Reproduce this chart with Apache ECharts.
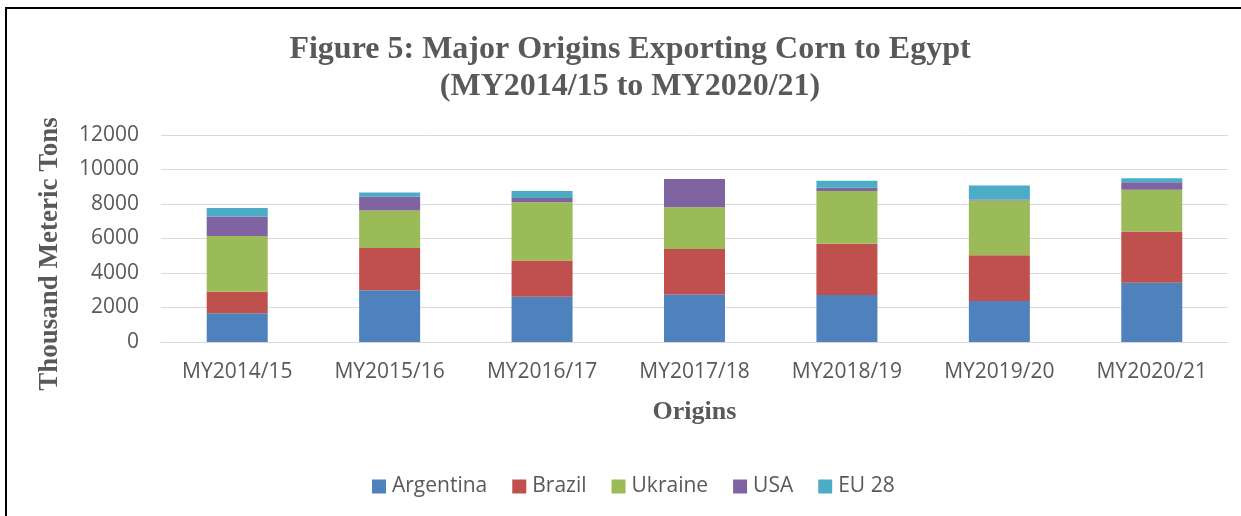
<!DOCTYPE html>
<html>
<head>
<meta charset="utf-8">
<script src="https://cdn.jsdelivr.net/npm/echarts@6/dist/echarts.min.js"></script>
<style>
  html, body { margin: 0; padding: 0; background: #fff; }
  #main { width: 1241px; height: 516px; }
  /* cropped frame of the original figure (only top and left visible) */
  #frame {
    position: absolute; left: 5px; top: 7px; width: 1300px; height: 600px;
    border-left: 2px solid #000; border-top: 2px solid #000;
    pointer-events: none;
  }
</style>
</head>
<body>
<div id="main"></div>
<div id="frame"></div>
<script>
// marketing years
var years = ['MY2014/15', 'MY2015/16', 'MY2016/17', 'MY2017/18', 'MY2018/19', 'MY2019/20', 'MY2020/21']
// thousand metric tons
var argentina = [1660, 3000, 2630, 2760, 2720, 2380, 3440]
var brazil = [1260, 2450, 2090, 2630, 2980, 2650, 2960]
var ukraine = [3230, 2180, 3380, 2420, 3050, 3170, 2420]
var usa = [1120, 790, 250, 1640, 190, 60, 440]
var eu28 = [500, 250, 410, 0, 410, 810, 230]

var serif = '"Liberation Serif", "Times New Roman", serif'
var sans = '"Open Sans", sans-serif'

function makeBar(name, data) {
  return {
    name: name,
    type: 'bar',
    stack: 'total',
    barWidth: 61,
    data: data
  }
}

var myChart = echarts.init(document.getElementById('main'))
myChart.setOption({
  animation: false,
  color: ['#4f81bd', '#c0504d', '#9bbb59', '#8064a2', '#4bacc6'],
  title: {
    text: 'Figure 5: Major Origins Exporting Corn to Egypt\n(MY2014/15 to MY2020/21)',
    left: 625,
    top: 26,
    textAlign: 'center',
    textStyle: {
      fontFamily: serif,
      fontWeight: 'bold',
      fontSize: 32,
      lineHeight: 37,
      color: '#595959',
      align: 'center'
    }
  },
  // y axis title sits a bit below the plot middle in the original
  graphic: [{
    type: 'text',
    x: 50,
    y: 254,
    rotation: Math.PI / 2,
    style: {
      text: 'Thousand Meteric Tons',
      fontFamily: serif,
      fontWeight: 'bold',
      fontSize: 27,
      fill: '#595959',
      align: 'center',
      verticalAlign: 'middle'
    }
  }],
  legend: {
    data: ['Argentina', 'Brazil', 'Ukraine', 'USA', 'EU 28'],
    left: 367,
    top: 471,
    itemWidth: 14,
    itemHeight: 14,
    itemGap: 25,
    icon: 'rect',
    textStyle: { fontFamily: sans, fontSize: 21, color: '#595959', padding: [0, 0, 0, 1] }
  },
  grid: {
    left: 161,
    right: 13,
    top: 135,
    bottom: 174
  },
  xAxis: {
    type: 'category',
    data: years,
    axisTick: { show: false },
    axisLine: { lineStyle: { color: '#d9d9d9', width: 1 } },
    axisLabel: { fontFamily: sans, fontSize: 21, color: '#595959', margin: 20 },
    name: 'Origins',
    nameLocation: 'middle',
    nameGap: 57,
    nameTextStyle: { fontFamily: serif, fontWeight: 'bold', fontSize: 26, color: '#595959' }
  },
  yAxis: {
    type: 'value',
    min: 0,
    max: 12000,
    interval: 2000,
    axisLine: { show: false },
    axisTick: { show: false },
    splitLine: { lineStyle: { color: '#d9d9d9', width: 1 } },
    axisLabel: {
      fontFamily: sans, fontSize: 21, color: '#595959', margin: 22,
      formatter: function (v) { return String(v) }
    }
  },
  series: [
    makeBar('Argentina', argentina),
    makeBar('Brazil', brazil),
    makeBar('Ukraine', ukraine),
    makeBar('USA', usa),
    makeBar('EU 28', eu28)
  ]
})
</script>
</body>
</html>
